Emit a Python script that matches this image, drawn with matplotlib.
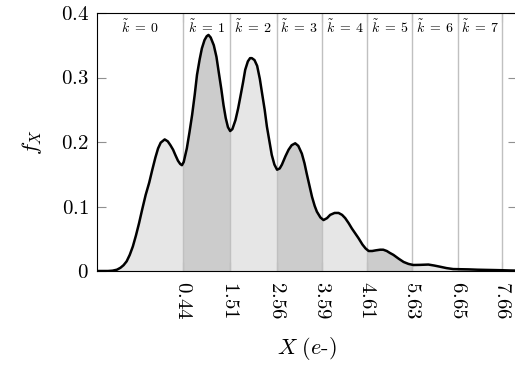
import numpy as np
import matplotlib
matplotlib.use('Agg')
import matplotlib.pyplot as plt

plt.rcParams['font.family'] = 'cmr10'
plt.rcParams['mathtext.fontset'] = 'cm'
plt.rcParams['axes.unicode_minus'] = False

# -----------------------------
# Data
# -----------------------------
x_vals = [-1.5, -1.25, -1.15, -1.05, -0.97, -0.90, -0.83, -0.76, -0.69, -0.62,
          -0.55, -0.48, -0.40, -0.32, -0.25, -0.18, -0.12, -0.06, 0.03, 0.10,
          0.16, 0.22, 0.27, 0.33, 0.38, 0.42, 0.46, 0.53, 0.59, 0.65,
          0.71, 0.76, 0.82, 0.87, 0.93, 0.98, 1.02, 1.07, 1.14, 1.20,
          1.25, 1.31, 1.36, 1.41, 1.46, 1.51, 1.56, 1.63, 1.69, 1.74,
          1.80, 1.85, 1.91, 1.96, 2.00, 2.06, 2.12, 2.18, 2.23, 2.29,
          2.34, 2.40, 2.45, 2.51, 2.57, 2.63, 2.68, 2.76, 2.83, 2.90,
          2.98, 3.05, 3.13, 3.19, 3.24, 3.30, 3.36, 3.42, 3.47, 3.55,
          3.62, 3.70, 3.77, 3.87, 3.96, 4.04, 4.11, 4.19, 4.26, 4.34,
          4.41, 4.50, 4.57, 4.64, 4.72, 4.80, 4.90, 4.97, 5.05, 5.12,
          5.20, 5.32, 5.43, 5.54, 5.65, 5.80, 5.99, 6.12, 6.25, 6.40,
          6.55, 6.75, 6.90, 7.10, 7.30, 7.45, 7.65, 7.85, 8.0]
f_vals = [0.0, 0.0, 0.0005, 0.002, 0.005, 0.009, 0.015, 0.025, 0.038, 0.055,
          0.074, 0.095, 0.118, 0.137, 0.157, 0.176, 0.190, 0.199, 0.204, 0.201,
          0.195, 0.188, 0.180, 0.171, 0.166, 0.164, 0.169, 0.190, 0.215, 0.242,
          0.274, 0.304, 0.328, 0.345, 0.358, 0.364, 0.366, 0.362, 0.350, 0.332,
          0.309, 0.282, 0.257, 0.237, 0.223, 0.217, 0.220, 0.234, 0.252, 0.270,
          0.292, 0.312, 0.325, 0.330, 0.330, 0.327, 0.318, 0.298, 0.276, 0.250,
          0.224, 0.200, 0.180, 0.165, 0.157, 0.159, 0.165, 0.178, 0.188, 0.195,
          0.198, 0.194, 0.182, 0.167, 0.151, 0.133, 0.115, 0.101, 0.092, 0.083,
          0.079, 0.082, 0.087, 0.090, 0.090, 0.087, 0.082, 0.074, 0.066, 0.058,
          0.051, 0.041, 0.035, 0.031, 0.031, 0.032, 0.033, 0.033, 0.031, 0.028,
          0.025, 0.019, 0.014, 0.011, 0.0093, 0.0095, 0.010, 0.0085, 0.0067, 0.0045,
          0.003, 0.0027, 0.0025, 0.002, 0.0017, 0.0015, 0.0012, 0.0008, 0.0006]

thresholds = [0.44, 1.51, 2.56, 3.59, 4.61, 5.63, 6.65, 7.66]
k_labels = ['0', '1', '2', '3', '4', '5', '6', '7']
y_ticks = [0, 0.1, 0.2, 0.3, 0.4]
y_ticklabels = ['0', '0.1', '0.2', '0.3', '0.4']

x = np.array(x_vals)
y = np.array(f_vals)
xmin, xmax = -1.5, 8.0
light = '#e6e6e6'
dark = '#cccccc'

fig = plt.figure(figsize=(5.15, 3.68), dpi=100)
ax = fig.add_axes([97 / 515, 97 / 368, 420.3 / 515, 258 / 368])

# light fill under the whole curve, dark bands clipped to it
poly = ax.fill_between(x, 0, y, color=light, lw=0, zorder=1)
clip = poly.get_paths()[0]
edges = [xmin] + thresholds + [xmax]
for i in range(len(edges) - 1):
    if i % 2 == 1:
        band = ax.axvspan(edges[i], edges[i + 1], color=dark, lw=0, zorder=1.5)
        band.set_clip_path(clip, ax.transData)

for t in thresholds:
    ax.axvline(t, color='#c0c0c0', lw=1.0, zorder=2)

ax.plot(x, y, color='black', lw=1.8, zorder=3, solid_joinstyle='round')

# k labels at the top
for i, lab in enumerate(k_labels):
    cx = (edges[i] + edges[i + 1]) / 2
    ax.text(cx, 0.378, r'$\tilde{k}\;=\;%s$' % lab, ha='center', va='center',
            fontsize=10, zorder=4)

ax.set_xlim(xmin, xmax)
ax.set_ylim(0, 0.4)
ax.set_xticks(thresholds)
ax.set_xticklabels([r'$%.2f$' % t for t in thresholds], rotation=-90, fontsize=15)
ax.set_yticks(y_ticks)
ax.set_yticklabels([r'$%s$' % s for s in y_ticklabels], fontsize=15)
ax.tick_params(axis='both', direction='in', length=6.5, width=0.8, color='#909090',
               top=True, right=True, pad=6)
ax.tick_params(axis='x', pad=7)
for sp in ax.spines.values():
    sp.set_linewidth(0.8)

ax.set_ylabel(r'$f_X$', fontsize=16, labelpad=12)
ax.set_xlabel(r'$X\ (e$-$)$', fontsize=16, labelpad=11)

fig.savefig('out.png', dpi=100)
